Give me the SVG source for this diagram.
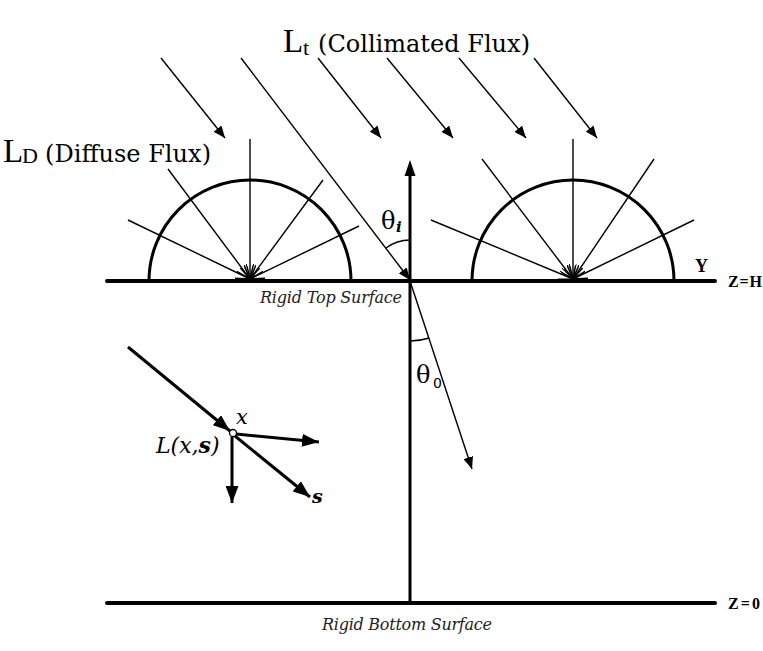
<svg xmlns="http://www.w3.org/2000/svg" width="763" height="651" viewBox="0 0 763 651">
<style>
.thin{stroke:#000;stroke-width:1.4;fill:none}
.ray{stroke:#000;stroke-width:1.4;fill:none}
.hemi{stroke:#000;stroke-width:3;fill:none}
.surf{stroke:#000;stroke-width:4;stroke-linecap:round;fill:none}
.thick{stroke:#000;stroke-width:3;fill:none}
.big{font-family:"Liberation Serif",serif;font-size:33px}
.sub{font-family:"Liberation Serif",serif;font-size:22px}
.lab{font-family:"DejaVu Serif",serif;font-size:24px}
.it{font-family:"DejaVu Serif",serif;font-style:italic;font-size:16px;fill:#222}
.bold{font-family:"Liberation Serif",serif;font-weight:bold}
.th{font-family:"DejaVu Serif",serif;font-size:24px}
</style>
<defs>
<marker id="ah" markerUnits="userSpaceOnUse" viewBox="0 0 12 10" refX="12" refY="5" markerWidth="12" markerHeight="10" orient="auto"><path d="M0,0 L12,5 L0,10 z" fill="#000"/></marker>
<marker id="ahT" markerUnits="userSpaceOnUse" viewBox="0 0 17 13" refX="17" refY="6.5" markerWidth="17" markerHeight="13" orient="auto"><path d="M0,0 L17,6.5 L0,13 z" fill="#000"/></marker>
<marker id="ahV" markerUnits="userSpaceOnUse" viewBox="0 0 15 12" refX="14" refY="6" markerWidth="15" markerHeight="12" orient="auto"><path d="M0,0 L14,6 L0,12" fill="none" stroke="#000" stroke-width="1.5"/></marker>
</defs>

<g id="top-surface">
<line class="surf" x1="107" y1="281" x2="715" y2="281"/>
<text class="it" x="260" y="303" textLength="142">Rigid Top Surface</text>
<text class="bold" x="728" y="287" font-size="16" textLength="34">Z=H</text>
<text class="bold" x="695" y="272" font-size="18">Y</text>
</g>

<g id="bottom-surface">
<line class="surf" x1="107" y1="603" x2="715" y2="603"/>
<text class="it" x="322" y="630" textLength="170">Rigid Bottom Surface</text>
<text class="bold" x="728" y="609" font-size="16" textLength="32">Z=0</text>
</g>

<g id="axis">
<line class="thick" x1="410" y1="603" x2="410" y2="170"/>
<path d="M410,160 L404.5,176 L415.5,176 z" fill="#000"/>
</g>

<g id="left-hemisphere">
<path class="hemi" d="M149,281 A101,101 0 0 1 351,281"/>
</g>
<g id="right-hemisphere">
<path class="hemi" d="M472,281 A101,101 0 0 1 674,281"/>
</g>

<g id="label-collimated">
<text class="big" x="283" y="52">L</text>
<text class="sub" x="303" y="55">t</text>
<text class="lab" x="318" y="52" textLength="212">(Collimated Flux)</text>
</g>
<g id="label-diffuse">
<text class="big" x="3" y="162">L</text>
<text class="sub" x="22" y="163">D</text>
<text class="lab" x="45" y="162" textLength="166">(Diffuse Flux)</text>
</g>

<g id="theta-i">
<path class="thin" d="M410,240 A40,40 0 0 0 386,248" stroke-width="1"/>
<text class="th" x="381" y="229">θ</text>
<text x="396" y="232" font-family="DejaVu Serif,serif" font-size="15" font-weight="bold" font-style="italic">i</text>
</g>
<g id="theta-o">
<path class="thin" d="M410,341 A60,60 0 0 0 429,338" stroke-width="1"/>
<text class="th" x="416" y="383">θ</text>
<text x="433" y="388" font-family="DejaVu Sans,sans-serif" font-size="14">0</text>
</g>

<g id="connectors">
<line class="thin" x1="161" y1="58" x2="225" y2="138" marker-end="url(#ah)"/>
<line class="thin" x1="318" y1="58" x2="381" y2="138" marker-end="url(#ah)"/>
<line class="thin" x1="387" y1="58" x2="453" y2="138" marker-end="url(#ah)"/>
<line class="thin" x1="459" y1="58" x2="526" y2="138" marker-end="url(#ah)"/>
<line class="thin" x1="534" y1="58" x2="597" y2="138" marker-end="url(#ah)"/>
<line class="thin" x1="241" y1="58" x2="410" y2="280" marker-end="url(#ah)"/>
<line class="thin" x1="410" y1="281" x2="472" y2="469" marker-end="url(#ah)"/>
<line class="ray" x1="128" y1="220" x2="250" y2="279" marker-end="url(#ahV)"/>
<line class="ray" x1="168" y1="169" x2="250" y2="279" marker-end="url(#ahV)"/>
<line class="ray" x1="250" y1="139" x2="250" y2="279" marker-end="url(#ahV)"/>
<line class="ray" x1="323" y1="180" x2="250" y2="279" marker-end="url(#ahV)"/>
<line class="ray" x1="359" y1="226" x2="250" y2="279" marker-end="url(#ahV)"/>
<line class="ray" x1="431" y1="220" x2="573" y2="279" marker-end="url(#ahV)"/>
<line class="ray" x1="482" y1="159" x2="573" y2="279" marker-end="url(#ahV)"/>
<line class="ray" x1="573" y1="139" x2="573" y2="279" marker-end="url(#ahV)"/>
<line class="ray" x1="654" y1="159" x2="573" y2="279" marker-end="url(#ahV)"/>
<line class="ray" x1="694" y1="220" x2="573" y2="279" marker-end="url(#ahV)"/>
<line class="thick" x1="128" y1="347" x2="230" y2="431" marker-end="url(#ahT)"/>
<line class="thick" x1="236" y1="434" x2="319" y2="442" marker-end="url(#ahT)"/>
<line class="thick" x1="232" y1="437" x2="232" y2="503" marker-end="url(#ahT)"/>
<line class="thick" x1="235" y1="436" x2="310" y2="497" marker-end="url(#ahT)"/>
</g>

<g id="point-x">
<circle cx="233" cy="433" r="3.5" fill="#fff" stroke="#000" stroke-width="1.3"/>
<text x="236" y="424" font-family="DejaVu Serif,serif" font-style="italic" font-size="21">x</text>
<text x="156" y="453" font-family="DejaVu Serif,serif" font-style="italic" font-size="22">L(x,<tspan font-weight="bold">s</tspan>)</text>
<text x="312" y="503" font-family="DejaVu Serif,serif" font-style="italic" font-weight="bold" font-size="19">s</text>
</g>
</svg>
